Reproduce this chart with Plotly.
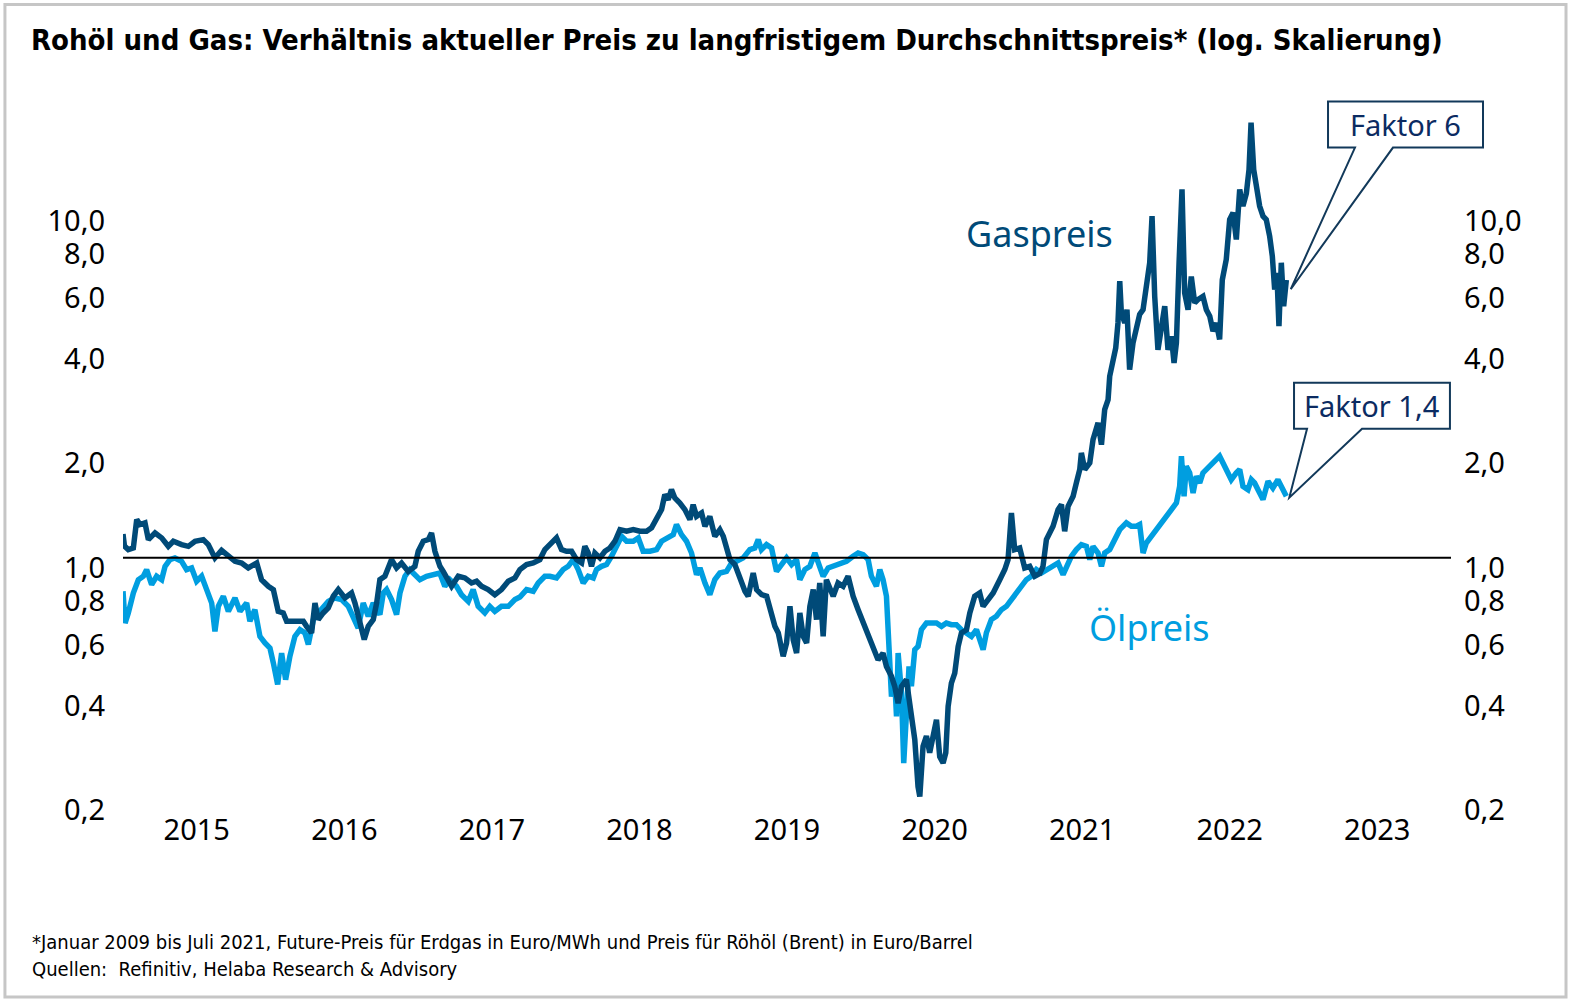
import math
import plotly.graph_objects as go

# ---------------- data (ratio current price / long-term average) ----------------
gas_t = [2015.000, 2015.010, 2015.036, 2015.070, 2015.093, 2015.115, 2015.149, 2015.172, 2015.217, 2015.262,
         2015.307, 2015.341, 2015.397, 2015.443, 2015.488, 2015.544, 2015.578, 2015.623, 2015.668, 2015.714,
         2015.759, 2015.804, 2015.849, 2015.906, 2015.939, 2015.985, 2016.019, 2016.052, 2016.086, 2016.109,
         2016.165, 2016.222, 2016.244, 2016.278, 2016.301, 2016.323, 2016.357, 2016.391, 2016.425, 2016.459,
         2016.504, 2016.549, 2016.572, 2016.617, 2016.635, 2016.662, 2016.696, 2016.719, 2016.741, 2016.775,
         2016.820, 2016.854, 2016.888, 2016.933, 2016.978, 2017.001, 2017.035, 2017.069, 2017.091, 2017.114,
         2017.148, 2017.170, 2017.204, 2017.227, 2017.272, 2017.317, 2017.362, 2017.396, 2017.430, 2017.475,
         2017.520, 2017.565, 2017.611, 2017.656,
         2017.690, 2017.735, 2017.780, 2017.825, 2017.859, 2017.904, 2017.938, 2017.972, 2018.006, 2018.040,
         2018.074, 2018.108, 2018.130, 2018.153, 2018.175, 2018.198, 2018.232, 2018.266, 2018.300, 2018.334,
         2018.368, 2018.413, 2018.458, 2018.503, 2018.548, 2018.582, 2018.616, 2018.650, 2018.672, 2018.695,
         2018.717, 2018.740, 2018.774, 2018.808, 2018.842, 2018.864, 2018.887, 2018.921, 2018.944, 2018.977,
         2019.011, 2019.045, 2019.068, 2019.090, 2019.113, 2019.147, 2019.181, 2019.215, 2019.237, 2019.271,
         2019.294, 2019.328, 2019.362, 2019.395, 2019.418, 2019.441, 2019.474, 2019.497, 2019.520, 2019.542,
         2019.565, 2019.587, 2019.610, 2019.633, 2019.655, 2019.678, 2019.700,
         2019.722, 2019.745, 2019.767, 2019.813, 2019.846, 2019.880, 2019.914, 2019.948, 2019.982, 2020.016,
         2020.050, 2020.084, 2020.117, 2020.151, 2020.174, 2020.208, 2020.230, 2020.253, 2020.276, 2020.309,
         2020.343, 2020.366, 2020.388, 2020.400, 2020.422, 2020.445, 2020.467, 2020.490, 2020.513, 2020.535,
         2020.558, 2020.576, 2020.592, 2020.614, 2020.637, 2020.660, 2020.682, 2020.716, 2020.739, 2020.772,
         2020.806, 2020.829, 2020.863, 2020.897, 2020.942, 2020.976, 2020.998, 2021.021, 2021.043, 2021.077,
         2021.111, 2021.145, 2021.179, 2021.213, 2021.235,
         2021.258, 2021.303, 2021.337, 2021.360, 2021.382, 2021.405, 2021.439, 2021.461, 2021.484, 2021.495,
         2021.518, 2021.552, 2021.574, 2021.608, 2021.631, 2021.653, 2021.676, 2021.687, 2021.709, 2021.728,
         2021.743, 2021.755, 2021.766, 2021.789, 2021.804, 2021.822, 2021.845, 2021.868, 2021.890, 2021.913,
         2021.935, 2021.958, 2021.974, 2021.992, 2022.014, 2022.037, 2022.060, 2022.082, 2022.105, 2022.123,
         2022.139, 2022.157, 2022.177, 2022.195, 2022.218, 2022.240, 2022.263, 2022.285, 2022.319, 2022.342,
         2022.365, 2022.387, 2022.410, 2022.432, 2022.450, 2022.477, 2022.500, 2022.523, 2022.545, 2022.568,
         2022.590, 2022.613, 2022.631, 2022.645, 2022.663, 2022.685, 2022.703, 2022.726, 2022.748, 2022.771,
         2022.789, 2022.805, 2022.820, 2022.834, 2022.850, 2022.866, 2022.884]
gas_v = [1.17, 1.08, 1.055, 1.066, 1.287, 1.245, 1.259, 1.127, 1.178, 1.14,
         1.078, 1.115, 1.09, 1.078, 1.115, 1.127, 1.09, 0.998, 1.05, 1.009,
         0.976, 0.965, 0.934, 0.965, 0.864, 0.827, 0.809, 0.700, 0.693, 0.656,
         0.656, 0.656, 0.634, 0.607, 0.740, 0.663, 0.693, 0.716, 0.774, 0.809,
         0.765, 0.791, 0.740, 0.634, 0.581, 0.634, 0.663, 0.740, 0.864, 0.884,
         0.987, 0.934, 0.965, 0.913, 0.944, 1.043, 1.115, 1.127, 1.178, 1.043,
         0.944, 0.913, 0.864, 0.827, 0.884, 0.874, 0.845, 0.855, 0.827, 0.809,
         0.782, 0.809, 0.855, 0.874,
         0.924, 0.955, 0.965, 0.987, 1.055, 1.102, 1.14, 1.055, 1.043, 1.043,
         0.987, 0.965, 1.078, 1.031, 0.944, 1.031, 0.998, 1.043, 1.066, 1.115,
         1.204, 1.191, 1.204, 1.191, 1.191, 1.218, 1.287, 1.375, 1.519, 1.469,
         1.570, 1.486, 1.437, 1.375, 1.287, 1.421, 1.315, 1.345, 1.231, 1.315,
         1.152, 1.204, 1.152, 1.055, 0.987, 0.955, 0.864, 0.800, 0.774, 0.903,
         0.809, 0.782, 0.774, 0.693, 0.634, 0.607, 0.520, 0.568, 0.724, 0.580,
         0.531, 0.693, 0.593, 0.568, 0.724, 0.809, 0.663,
         0.845, 0.593, 0.864, 0.774, 0.845, 0.827, 0.884, 0.774, 0.708, 0.648,
         0.607, 0.543, 0.508, 0.531, 0.486, 0.455, 0.426, 0.381, 0.426, 0.445,
         0.341, 0.299, 0.219, 0.205, 0.286, 0.306, 0.274, 0.313, 0.341, 0.267,
         0.256, 0.274, 0.373, 0.435, 0.465, 0.555, 0.607, 0.620, 0.693, 0.774,
         0.791, 0.724, 0.757, 0.791, 0.864, 0.924, 0.987, 1.345, 1.055, 1.066,
         0.934, 0.944, 0.884, 0.90, 0.944,
         1.127, 1.231, 1.375, 1.421, 1.191, 1.406, 1.503, 1.641, 1.794, 2.003,
         1.794, 1.874, 2.188, 2.444, 2.116, 2.669, 2.852, 3.330, 3.636, 4.021,
         4.743, 6.26, 5.068, 4.743, 5.18, 3.479, 4.156, 4.64, 5.02, 5.18,
         6.19, 7.07, 9.63, 5.66, 3.97, 4.64, 5.30, 3.97, 4.34, 3.636,
         4.156, 7.07, 11.5, 5.79, 5.18, 6.45, 5.42, 5.54, 5.66, 5.18,
         4.96, 4.49, 4.743, 4.25, 6.31, 7.23, 9.42, 9.86, 8.25, 11.5,
         10.3, 11.2, 13.1, 17.9, 13.1, 11.5, 10.3, 9.63, 9.42, 8.43,
         7.39, 5.92, 6.61, 4.64, 7.07, 5.30, 6.31]

oil_t = [2015.000, 2015.014, 2015.036, 2015.070, 2015.104, 2015.138, 2015.160, 2015.194, 2015.228, 2015.262,
         2015.285, 2015.318, 2015.352, 2015.397, 2015.431, 2015.465, 2015.499, 2015.533, 2015.567, 2015.601,
         2015.623, 2015.646, 2015.680, 2015.714, 2015.759, 2015.793, 2015.838, 2015.860, 2015.894, 2015.928,
         2015.962, 2015.996, 2016.019, 2016.048, 2016.075, 2016.102, 2016.131, 2016.165, 2016.199, 2016.233,
         2016.256, 2016.290, 2016.323, 2016.357, 2016.391, 2016.436, 2016.481, 2016.527, 2016.560, 2016.594,
         2016.628, 2016.662, 2016.696, 2016.741, 2016.764, 2016.786, 2016.820, 2016.854, 2016.877, 2016.911,
         2016.944, 2016.978, 2017.012, 2017.057, 2017.102, 2017.147, 2017.181, 2017.215, 2017.260, 2017.294,
         2017.340, 2017.373, 2017.407, 2017.452, 2017.486, 2017.520, 2017.565, 2017.611, 2017.656,
         2017.690, 2017.735, 2017.780, 2017.814, 2017.859, 2017.893, 2017.938, 2017.983, 2018.017, 2018.051,
         2018.085, 2018.119, 2018.153, 2018.187, 2018.209, 2018.243, 2018.277, 2018.311, 2018.345, 2018.379,
         2018.413, 2018.458, 2018.492, 2018.525, 2018.571, 2018.616, 2018.650, 2018.695, 2018.729, 2018.751,
         2018.785, 2018.819, 2018.853, 2018.887, 2018.910, 2018.944, 2018.977, 2019.011, 2019.045, 2019.090,
         2019.124, 2019.158, 2019.203, 2019.248, 2019.282, 2019.305, 2019.327, 2019.361, 2019.395, 2019.429,
         2019.463, 2019.497, 2019.531, 2019.565, 2019.587, 2019.621, 2019.655, 2019.689,
         2019.722, 2019.745, 2019.779, 2019.813, 2019.858, 2019.903, 2019.948, 2019.982, 2020.016, 2020.050,
         2020.072, 2020.106, 2020.129, 2020.151, 2020.174, 2020.185, 2020.197, 2020.208, 2020.230, 2020.242,
         2020.253, 2020.276, 2020.291, 2020.309, 2020.327, 2020.343, 2020.366, 2020.388, 2020.411, 2020.445,
         2020.479, 2020.513, 2020.547, 2020.580, 2020.614, 2020.648, 2020.682, 2020.716, 2020.750, 2020.784,
         2020.806, 2020.829, 2020.851, 2020.885, 2020.919, 2020.953, 2020.987, 2021.021, 2021.055, 2021.089,
         2021.122, 2021.156, 2021.190, 2021.224,
         2021.258, 2021.303, 2021.337, 2021.371, 2021.393, 2021.427, 2021.461, 2021.495, 2021.529, 2021.552,
         2021.574, 2021.608, 2021.631, 2021.653, 2021.687, 2021.721, 2021.755, 2021.800, 2021.834, 2021.868,
         2021.890, 2021.913, 2021.935, 2021.969, 2022.003, 2022.037, 2022.071, 2022.105, 2022.139, 2022.161,
         2022.173, 2022.191, 2022.206, 2022.229, 2022.252, 2022.274, 2022.297, 2022.319, 2022.342, 2022.376,
         2022.398, 2022.432, 2022.455, 2022.477, 2022.511, 2022.545, 2022.568, 2022.590, 2022.624, 2022.647,
         2022.669, 2022.692, 2022.726, 2022.760, 2022.793, 2022.827, 2022.850, 2022.884]
oil_v = [0.80, 0.648, 0.693, 0.791, 0.864, 0.884, 0.923, 0.836, 0.884, 0.864,
         0.944, 0.987, 0.998, 0.976, 0.923, 0.934, 0.855, 0.884, 0.809, 0.740,
         0.613, 0.724, 0.774, 0.700, 0.765, 0.700, 0.740, 0.656, 0.708, 0.593,
         0.568, 0.549, 0.497, 0.431, 0.531, 0.445, 0.520, 0.593, 0.620, 0.607,
         0.562, 0.663, 0.693, 0.724, 0.748, 0.765, 0.757, 0.724, 0.678, 0.627,
         0.740, 0.678, 0.740, 0.685, 0.791, 0.809, 0.757, 0.685, 0.791, 0.884,
         0.923, 0.893, 0.864, 0.884, 0.893, 0.903, 0.827, 0.864, 0.827, 0.782,
         0.748, 0.809, 0.724, 0.693, 0.724, 0.700, 0.724, 0.724, 0.757,
         0.770, 0.809, 0.800, 0.845, 0.884, 0.884, 0.874, 0.924, 0.944, 0.987,
         0.924, 0.845, 0.884, 0.874, 0.924, 0.944, 0.955, 1.009, 1.078, 1.152,
         1.115, 1.115, 1.140, 1.043, 1.043, 1.055, 1.115, 1.140, 1.165, 1.245,
         1.165, 1.115, 1.031, 0.893, 0.934, 0.845, 0.782, 0.864, 0.903, 0.913,
         0.965, 0.976, 0.998, 1.055, 1.066, 1.127, 1.055, 1.090, 1.066, 0.913,
         0.955, 0.998, 0.955, 0.987, 0.864, 0.924, 0.944, 1.031,
         0.940, 0.884, 0.934, 0.944, 0.965, 0.976, 1.009, 1.031, 1.020, 0.987,
         0.884, 0.827, 0.924, 0.864, 0.774, 0.634, 0.508, 0.398, 0.445, 0.349,
         0.531, 0.407, 0.256, 0.357, 0.486, 0.426, 0.543, 0.555, 0.620, 0.648,
         0.648, 0.648, 0.634, 0.648, 0.641, 0.641, 0.620, 0.607, 0.593, 0.620,
         0.580, 0.543, 0.607, 0.663, 0.678, 0.708, 0.724, 0.757, 0.782, 0.827,
         0.864, 0.884, 0.924, 0.903,
         0.924, 0.944, 0.965, 0.893, 0.944, 1.009, 1.055, 1.090, 1.078, 0.987,
         1.078, 1.031, 0.944, 1.031, 1.055, 1.127, 1.204, 1.259, 1.231, 1.231,
         1.245, 1.031, 1.102, 1.152, 1.204, 1.259, 1.330, 1.375, 1.437, 1.605,
         1.960, 1.503, 1.833, 1.754, 1.535, 1.715, 1.641, 1.754, 1.794, 1.854,
         1.917, 1.960, 1.874, 1.794, 1.677, 1.754, 1.794, 1.605, 1.570, 1.677,
         1.641, 1.570, 1.470, 1.659, 1.587, 1.677, 1.605, 1.503]

year_labels = ["2015", "2016", "2017", "2018", "2019", "2020", "2021", "2022", "2023"]
year_pos = [2015.5, 2016.5, 2017.5, 2018.5, 2019.5, 2020.5, 2021.5, 2022.5, 2023.5]
y_tick_vals = [0.2, 0.4, 0.6, 0.8, 1.0, 2.0, 4.0, 6.0, 8.0, 10.0]
y_tick_text = ["0,2", "0,4", "0,6", "0,8", "1,0", "2,0", "4,0", "6,0", "8,0", "10,0"]

# ---------------- style ----------------
GAS = "#004a78"
OIL = "#009ee0"
NAVY = "#0b2b62"
BOXLINE = "#12395a"
TICKFONT = dict(family="Noto Sans, Open Sans, sans-serif", size=29, color="#000000")
NARROW = "DejaVu Sans Condensed, Liberation Sans Narrow, sans-serif"

X_RANGE = [2015.0, 2024.0]
Y_LOG_RANGE = [math.log10(0.19), math.log10(20.0)]


def to_paper(t, v):
    px = (t - X_RANGE[0]) / (X_RANGE[1] - X_RANGE[0])
    py = (math.log10(v) - Y_LOG_RANGE[0]) / (Y_LOG_RANGE[1] - Y_LOG_RANGE[0])
    return px, py


fig = go.Figure()
fig.add_trace(go.Scatter(x=oil_t, y=oil_v, mode="lines", name="Ölpreis",
                         line=dict(color=OIL, width=5.5), hoverinfo="x+y"))
fig.add_trace(go.Scatter(x=gas_t, y=gas_v, mode="lines", name="Gaspreis",
                         line=dict(color=GAS, width=5.5), hoverinfo="x+y"))
# anchor trace for the right-hand axis
fig.add_trace(go.Scatter(x=[gas_t[0]], y=[1.0], yaxis="y2", mode="markers",
                         marker=dict(opacity=0), hoverinfo="skip", showlegend=False))

axis_common = dict(type="log", range=Y_LOG_RANGE, tickvals=y_tick_vals, ticktext=y_tick_text,
                   showgrid=False, zeroline=False, showline=False, ticks="",
                   tickfont=TICKFONT, ticklabelshift=10)

fig.update_layout(
    width=1576, height=1002,
    margin=dict(l=123, r=125, t=106, b=194),
    paper_bgcolor="white", plot_bgcolor="white",
    showlegend=False,
    title=dict(text="Rohöl und Gas: Verhältnis aktueller Preis zu langfristigem Durchschnittspreis* (log. Skalierung)",
               x=31 / 1576, xanchor="left", xref="container", y=1 - 40 / 1002, yanchor="middle",
               font=dict(family=NARROW, size=29, color="#000000", weight="bold")),
    xaxis=dict(range=X_RANGE, tickvals=year_pos, ticktext=year_labels, showgrid=False, zeroline=False,
               showline=False, ticks="", tickfont=TICKFONT, ticklabelstandoff=2),
    yaxis=dict(**axis_common, ticklabelstandoff=17),
    yaxis2=dict(**axis_common, overlaying="y", side="right", ticklabelstandoff=12),
)

shapes = []
# reference line at 1.0
shapes.append(dict(type="line", xref="paper", x0=0, x1=1, yref="y", y0=1.0, y1=1.0,
                   line=dict(color="#000000", width=2), layer="above"))
# outer border
shapes.append(dict(type="rect", xref="paper", yref="paper", x0=-0.0889, x1=1.0866, y0=-0.2694, y1=1.1447,
                   line=dict(color="#c6c6c6", width=3), fillcolor="rgba(0,0,0,0)", layer="below"))


def callout(box, bases, tip):
    x0, x1, y0, y1 = box
    b1, b2 = bases
    tx, ty = tip
    path = (f"M {tx},{ty} L {b1},{y0} L {x0},{y0} L {x0},{y1} L {x1},{y1} "
            f"L {x1},{y0} L {b2},{y0} Z")
    return dict(type="path", xref="paper", yref="paper", path=path,
                line=dict(color=BOXLINE, width=2), fillcolor="white", layer="above")


gas_tip = to_paper(gas_t[-1] + 0.03, gas_v[-1] * 0.94)
oil_tip = to_paper(oil_t[-1] + 0.02, oil_v[-1] * 0.99)
box6 = (0.9074, 1.0241, 0.9408, 1.0064)
box14 = (0.8818, 0.9992, 0.5403, 0.6058)
shapes.append(callout(box6, (0.9277, 0.9563), gas_tip))
shapes.append(callout(box14, (0.8916, 0.9330), oil_tip))
fig.update_layout(shapes=shapes)

ann = []
ann.append(dict(text="Faktor 6", xref="paper", yref="paper", x=(box6[0] + box6[1]) / 2,
                y=(box6[2] + box6[3]) / 2, showarrow=False, xanchor="center", yanchor="middle",
                font=dict(family="Noto Sans, sans-serif", size=29, color=NAVY)))
ann.append(dict(text="Faktor 1,4", xref="paper", yref="paper", x=(box14[0] + box14[1]) / 2,
                y=(box14[2] + box14[3]) / 2, showarrow=False, xanchor="center", yanchor="middle",
                font=dict(family="Noto Sans, sans-serif", size=29, color=NAVY)))
ann.append(dict(text="Gaspreis", xref="paper", yref="paper", x=0.6905, y=0.8182, showarrow=False,
                xanchor="center", yanchor="middle",
                font=dict(family="Noto Sans, sans-serif", size=36, color=GAS)))
ann.append(dict(text="Ölpreis", xref="paper", yref="paper", x=0.7726, y=0.2566, showarrow=False,
                xanchor="center", yanchor="middle",
                font=dict(family="Noto Sans, sans-serif", size=36, color=OIL)))
ann.append(dict(text="*Januar 2009 bis Juli 2021, Future-Preis für Erdgas in Euro/MWh und Preis für Röhöl (Brent) in Euro/Barrel",
                xref="paper", yref="paper", x=-0.0700, y=-0.191, showarrow=False,
                xanchor="left", yanchor="middle",
                font=dict(family=NARROW, size=20, color="#000000")))
ann.append(dict(text="Quellen:  Refinitiv, Helaba Research &amp; Advisory",
                xref="paper", yref="paper", x=-0.0700, y=-0.2295, showarrow=False,
                xanchor="left", yanchor="middle",
                font=dict(family=NARROW, size=20, color="#000000")))
fig.update_layout(annotations=ann)

fig.write_html("out.html", config={"displayModeBar": False},
               post_script="document.body.style.margin='0';document.body.style.padding='0';")
